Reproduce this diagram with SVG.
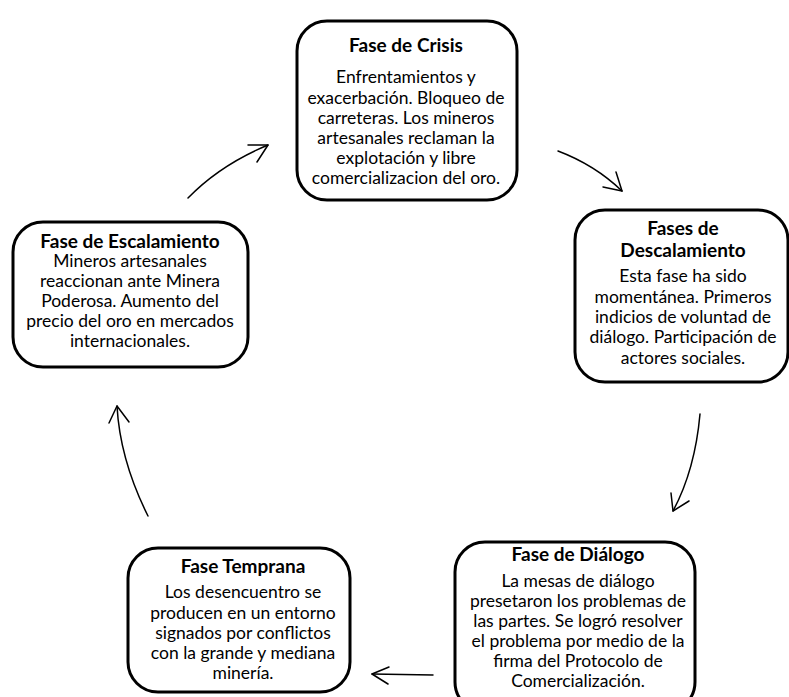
<svg xmlns="http://www.w3.org/2000/svg" width="789" height="697" viewBox="0 0 789 697">
<style>
.box{fill:#fff;stroke:#000;stroke-width:3}
text{font-family:Lato,"Liberation Sans",sans-serif;font-size:17.5px;fill:#000;text-anchor:middle}
.t{font-weight:bold;font-size:19px}
.c{fill:none;stroke:#000;stroke-width:1.5;stroke-linecap:round;stroke-linejoin:round}
</style>
<rect width="789" height="697" fill="#fff"/>
<g id="connectors">
<path class="c" d="M188,198 Q220,165 268,145"/>
<polyline class="c" points="248,145 268,145 257,162"/>
<path class="c" d="M558,151 Q595,165 622,191"/>
<polyline class="c" points="603,187 622,191 616,172"/>
<path class="c" d="M700,414 Q695,470 673,511"/>
<polyline class="c" points="671,493 673,511 689,501"/>
<path class="c" d="M433,675 L372,674"/>
<polyline class="c" points="389,667 372,674 388,684"/>
<path class="c" d="M148,516 Q120,460 117,406"/>
<polyline class="c" points="109,423 117,406 129,422"/>
</g>
<g id="crisis">
<rect class="box" x="297" y="21" width="220" height="179" rx="30"/>
<text class="t" x="406" y="52">Fase de Crisis</text>
<text x="406" y="83">Enfrentamientos y</text>
<text x="406" y="104">exacerbación. Bloqueo de</text>
<text x="406" y="124">carreteras. Los mineros</text>
<text x="406" y="144">artesanales reclaman la</text>
<text x="406" y="164">explotación y libre</text>
<text x="406" y="184">comercializacion del oro.</text>
</g>
<g id="descalamiento">
<rect class="box" x="575" y="210" width="213" height="172" rx="30"/>
<text class="t" x="683" y="235">Fases de</text>
<text class="t" x="683" y="257">Descalamiento</text>
<text x="683" y="282">Esta fase ha sido</text>
<text x="683" y="303">momentánea. Primeros</text>
<text x="683" y="323">indicios de voluntad de</text>
<text x="683" y="343">diálogo. Participación de</text>
<text x="683" y="364">actores sociales.</text>
</g>
<g id="dialogo">
<rect class="box" x="455" y="542" width="240" height="170" rx="30"/>
<text class="t" x="578" y="561">Fase de Diálogo</text>
<text x="578" y="587">La mesas de diálogo</text>
<text x="578" y="607">presetaron los problemas de</text>
<text x="578" y="627">las partes. Se logró resolver</text>
<text x="578" y="647">el problema por medio de la</text>
<text x="578" y="667">firma del Protocolo de</text>
<text x="578" y="687">Comercialización.</text>
</g>
<g id="temprana">
<rect class="box" x="128" y="548" width="222" height="144" rx="30"/>
<text class="t" x="243" y="573">Fase Temprana</text>
<text x="243" y="598">Los desencuentro se</text>
<text x="243" y="619">producen en un entorno</text>
<text x="243" y="639">signados por conflictos</text>
<text x="243" y="659">con la grande y mediana</text>
<text x="243" y="679">minería.</text>
</g>
<g id="escalamiento">
<rect class="box" x="13" y="222" width="235" height="145" rx="30"/>
<text class="t" x="130" y="248">Fase de Escalamiento</text>
<text x="130" y="267">Mineros artesanales</text>
<text x="130" y="287">reaccionan ante Minera</text>
<text x="130" y="307">Poderosa. Aumento del</text>
<text x="130" y="327">precio del oro en mercados</text>
<text x="130" y="347">internacionales.</text>
</g>
</svg>
